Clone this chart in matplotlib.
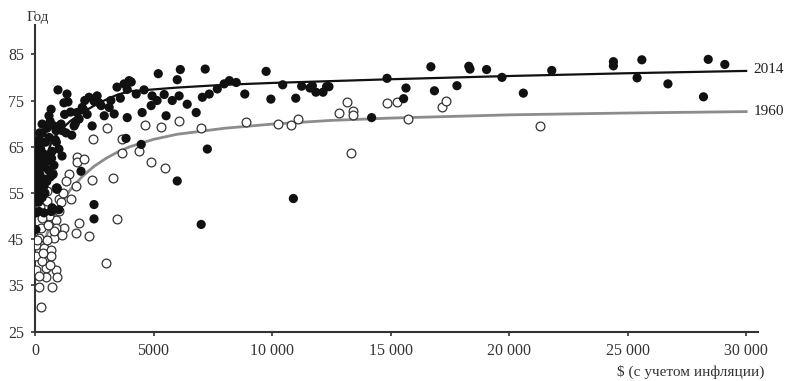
import numpy as np
import matplotlib.pyplot as plt

# 2014 points (GDP per capita, life expectancy)
x_2014 = [24400, 24400, 25600, 25400, 26700, 28400, 29100, 28200, 21800, 20600,
          19700, 19050, 18300, 18350, 17800, 16700, 16850, 15650, 15550, 14850,
          14200, 12400, 9750, 10450, 8850, 9950, 11000, 11250, 11600, 11850,
          12150, 12300, 11700, 5200, 6130, 7180, 6000, 4060, 4600, 4270,
          4940, 5150, 5450, 6080, 6420, 6800, 5530, 4520, 4900, 5790,
          7060, 7350, 7690, 7980, 8200, 8490, 4480, 7270, 6000, 7010,
          10900, 970, 1350, 1390, 1220, 680, 590, 300, 800, 1100,
          1310, 300, 890, 1140, 1650, 1860, 1990, 2280, 2100, 2500,
          2620, 2790, 2920, 3130, 3340, 3460, 3760, 3970, 3890, 1770,
          2410, 3890, 3840, 170, 300, 1010, 1140, 720, 170, 380,
          40, 380, 250, 1940, 930, 2490, 2490, 170, 680, 1010,
          930, 40, 380, 720, 40, 100, 200, 400, 550, 150,
          450, 600, 250, 100, 300, 500, 800, 650, 50, 350,
          700, 900, 500, 200, 80, 120, 260, 420, 60, 330,
          560, 760, 150, 30, 240, 480, 1500, 1700, 2200, 2700,
          3200, 1250, 640, 860, 3600, 2050, 1550, 60, 220]
y_2014 = [83.4, 82.5, 83.8, 79.9, 78.6, 83.9, 82.8, 75.8, 81.5, 76.6,
          80.0, 81.7, 82.4, 81.8, 78.2, 82.3, 77.1, 77.7, 75.4, 79.8,
          71.3, 78.0, 81.3, 78.4, 76.4, 75.3, 75.5, 78.1, 77.7, 76.8,
          76.8, 78.0, 78.2, 80.8, 81.7, 81.8, 79.5, 79.0, 77.3, 76.4,
          76.0, 75.0, 76.3, 76.0, 74.2, 72.4, 71.7, 72.4, 73.9, 75.0,
          75.7, 76.4, 77.5, 78.6, 79.3, 78.9, 65.5, 64.5, 57.6, 48.2,
          53.8, 77.3, 76.4, 74.7, 74.5, 73.1, 71.7, 69.9, 69.5, 69.9,
          68.0, 67.9, 68.5, 68.5, 69.5, 71.0, 73.5, 75.7, 75.0, 74.8,
          76.0, 73.9, 71.7, 73.5, 72.1, 77.9, 78.6, 79.3, 77.4, 72.4,
          69.5, 71.3, 66.8, 66.5, 65.9, 64.5, 63.0, 64.0, 62.8, 60.8,
          57.3, 56.5, 55.8, 59.7, 55.8, 52.5, 49.4, 51.0, 51.0, 51.4,
          56.1, 50.7, 50.7, 51.8, 47.1, 60.0, 59.0, 58.0, 62.0, 64.0,
          66.0, 67.0, 62.0, 54.5, 54.0, 57.5, 61.0, 58.5, 65.0, 63.5,
          62.5, 66.0, 69.0, 68.0, 62.0, 56.0, 60.5, 55.0, 58.5, 57.0,
          60.0, 59.0, 53.0, 61.5, 64.5, 63.0, 72.5, 70.0, 72.0, 74.5,
          75.0, 72.0, 70.5, 66.5, 75.5, 73.0, 67.5, 55.5, 66.0]

# 1960 points
x_1960 = [13180, 12840, 13430, 13430, 13310, 14830, 15290, 15720, 17150, 17320,
          21290, 8910, 10270, 10820, 11110, 4650, 5320, 6080, 7010, 4390,
          4900, 5490, 3040, 2450, 3680, 3680, 1770, 1770, 720, 1440,
          1310, 1730, 2410, 3300, 1520, 1010, 510, 3460, 1860, 1730,
          2280, 3000, 1230, 890, 890, 800, 250, 170, 40, 380,
          680, 40, 380, 680, 40, 460, 460, 890, 930, 170,
          720, 250, 800, 1140, 80, 510, 300, 1100, 600, 300,
          1200, 900, 500, 200, 2070, 1000, 150, 560, 620, 330]
y_1960 = [74.7, 72.4, 72.8, 71.8, 63.6, 74.5, 74.7, 71.0, 73.5, 75.0,
          69.5, 70.3, 69.9, 69.7, 71.0, 69.7, 69.2, 70.5, 69.0, 64.0,
          61.6, 60.5, 69.0, 66.6, 66.6, 63.7, 62.7, 61.6, 59.4, 59.0,
          57.6, 56.5, 57.9, 58.2, 53.6, 53.6, 53.2, 49.4, 48.5, 46.3,
          45.6, 39.8, 47.4, 49.2, 47.4, 45.3, 47.4, 45.3, 43.8, 43.1,
          42.7, 41.3, 40.5, 41.3, 38.4, 38.7, 36.9, 38.4, 36.9, 34.7,
          34.7, 30.4, 46.7, 46.0, 44.9, 44.9, 40.2, 53.0, 50.0, 49.5,
          55.0, 56.0, 55.5, 52.0, 62.3, 51.0, 37.0, 48.0, 39.5, 42.0]

# trend curves
curve_x = [200, 400, 700, 1000, 1500, 2000, 2500, 3000, 3500, 4000, 5000, 6000,
           8000, 10000, 12500, 15000, 20000, 25000, 30000]
curve_2014 = [57.0, 62.0, 66.0, 68.2, 70.6, 72.4, 73.9, 75.2, 76.3, 77.0, 77.4, 77.8,
              78.4, 78.8, 79.2, 79.6, 80.3, 80.9, 81.4]
curve_1960 = [40.0, 44.5, 49.0, 52.0, 55.8, 58.6, 60.8, 62.5, 63.9, 65.0, 66.6, 67.7,
              69.0, 69.9, 70.7, 71.2, 71.9, 72.3, 72.6]

xticks = [0, 5000, 10000, 15000, 20000, 25000, 30000]
xtick_labels = ['0', '5000', '10 000', '15 000', '20 000', '25 000', '30 000']
yticks = [25, 35, 45, 55, 65, 75, 85]

plt.rcParams['font.family'] = ['Liberation Serif', 'DejaVu Serif']

fig = plt.figure(figsize=(7.9, 3.81), dpi=100)
ax = fig.add_axes([0.0443, 0.1294, 0.9152, 0.8046])

ax.plot(curve_x, curve_1960, color='#8c8c8c', lw=2.0, zorder=2)
ax.plot(curve_x, curve_2014, color='#111111', lw=1.6, zorder=4)
ax.scatter(x_1960, y_1960, s=40, facecolor='white', edgecolor='#333333',
           linewidths=0.9, zorder=3)
ax.scatter(x_2014, y_2014, s=44, color='#111111', edgecolor='none', zorder=5)

ax.text(30300, 81.6, '2014', fontsize=11, va='center', ha='left', color='#222222',
        clip_on=False)
ax.text(30300, 72.7, '1960', fontsize=11, va='center', ha='left', color='#222222',
        clip_on=False)

ax.set_xlim(0, 30500)
ax.set_ylim(25, 91.3)
ax.set_xticks(xticks)
ax.set_xticklabels(xtick_labels)
ax.set_yticks(yticks)
for s in ['top', 'right']:
    ax.spines[s].set_visible(False)
for s in ['left', 'bottom']:
    ax.spines[s].set_linewidth(1.5)
    ax.spines[s].set_color('#333333')
ax.tick_params(direction='out', length=3, width=1.2, color='#333333',
               labelsize=11.5, labelcolor='#333333', pad=5)

fig.text(0.033, 0.955, 'Год', fontsize=11, color='#333333', ha='left', va='center')
fig.text(0.968, 0.025, '$ (с учетом инфляции)', fontsize=11, color='#333333',
         ha='right', va='center')

fig.savefig('out.png', dpi=100)
